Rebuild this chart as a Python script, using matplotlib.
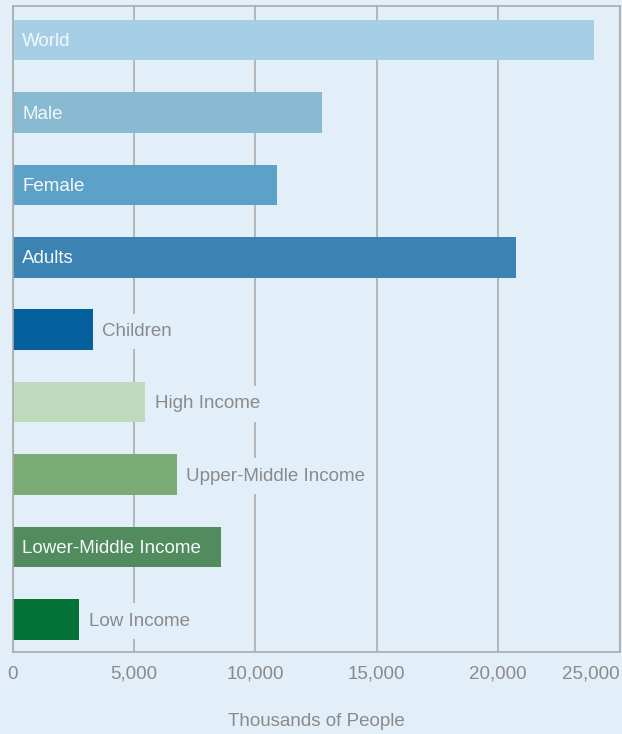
import matplotlib.pyplot as plt

# Data (thousands of people)
categories = ["World", "Male", "Female", "Adults", "Children",
              "High Income", "Upper-Middle Income", "Lower-Middle Income", "Low Income"]
values = [23950, 12750, 10900, 20740, 3300, 5450, 6760, 8580, 2740]
bar_colors = ["#a6cfe5", "#88bbd2", "#5ea1c8", "#3a83b3", "#045f9c",
              "#bfdabd", "#7aab77", "#528b5d", "#047137"]
# labels drawn inside the bar (white) vs. after the bar (grey)
inside = [True, True, True, True, False, False, False, True, False]
xticks = [0, 5000, 10000, 15000, 20000, 25000]
xtick_labels = ["0", "5,000", "10,000", "15,000", "20,000", "25,000"]

bg = "#e2eff9"
grid_col = "#ababab"
text_grey = "#8a8a8a"

plt.rcParams["font.family"] = ["Liberation Sans", "DejaVu Sans"]
fs = 13.5

fig = plt.figure(figsize=(6.22, 7.34), dpi=100, facecolor=bg)
ax = fig.add_axes([0.0201, 0.1117, 0.9759, 0.8801], facecolor=bg)

y = list(range(len(categories)))
ax.barh(y, values, height=0.56, color=bar_colors, zorder=2)

ax.set_xlim(0, 25000)
ax.set_ylim(8.45, -0.47)

for i, (name, v) in enumerate(zip(categories, values)):
    if inside[i]:
        ax.annotate(name, xy=(0, i), xytext=(7, -1.2), textcoords="offset points",
                    va="center", ha="left", color="#f4f8fb", fontsize=fs, zorder=3)
    else:
        ax.annotate(name, xy=(v, i), xytext=(7, -1.2), textcoords="offset points",
                    va="center", ha="left", color=text_grey, fontsize=fs, zorder=3,
                    bbox=dict(boxstyle="square,pad=0.5", fc=bg, ec="none"))

ax.set_xticks(xticks)
ax.set_xticklabels(xtick_labels)
ax.set_yticks([])
ax.tick_params(axis="x", length=0, pad=10, labelsize=fs, labelcolor=text_grey)
ax.get_xticklabels()[-1].set_horizontalalignment("right")

ax.grid(axis="x", color=grid_col, linewidth=1.2, zorder=1)
ax.set_axisbelow(True)
for s in ax.spines.values():
    s.set_color(grid_col)
    s.set_linewidth(1.2)

ax.set_xlabel("Thousands of People", color=text_grey, fontsize=fs, labelpad=22)

fig.savefig("out.png", dpi=100, facecolor=bg)
